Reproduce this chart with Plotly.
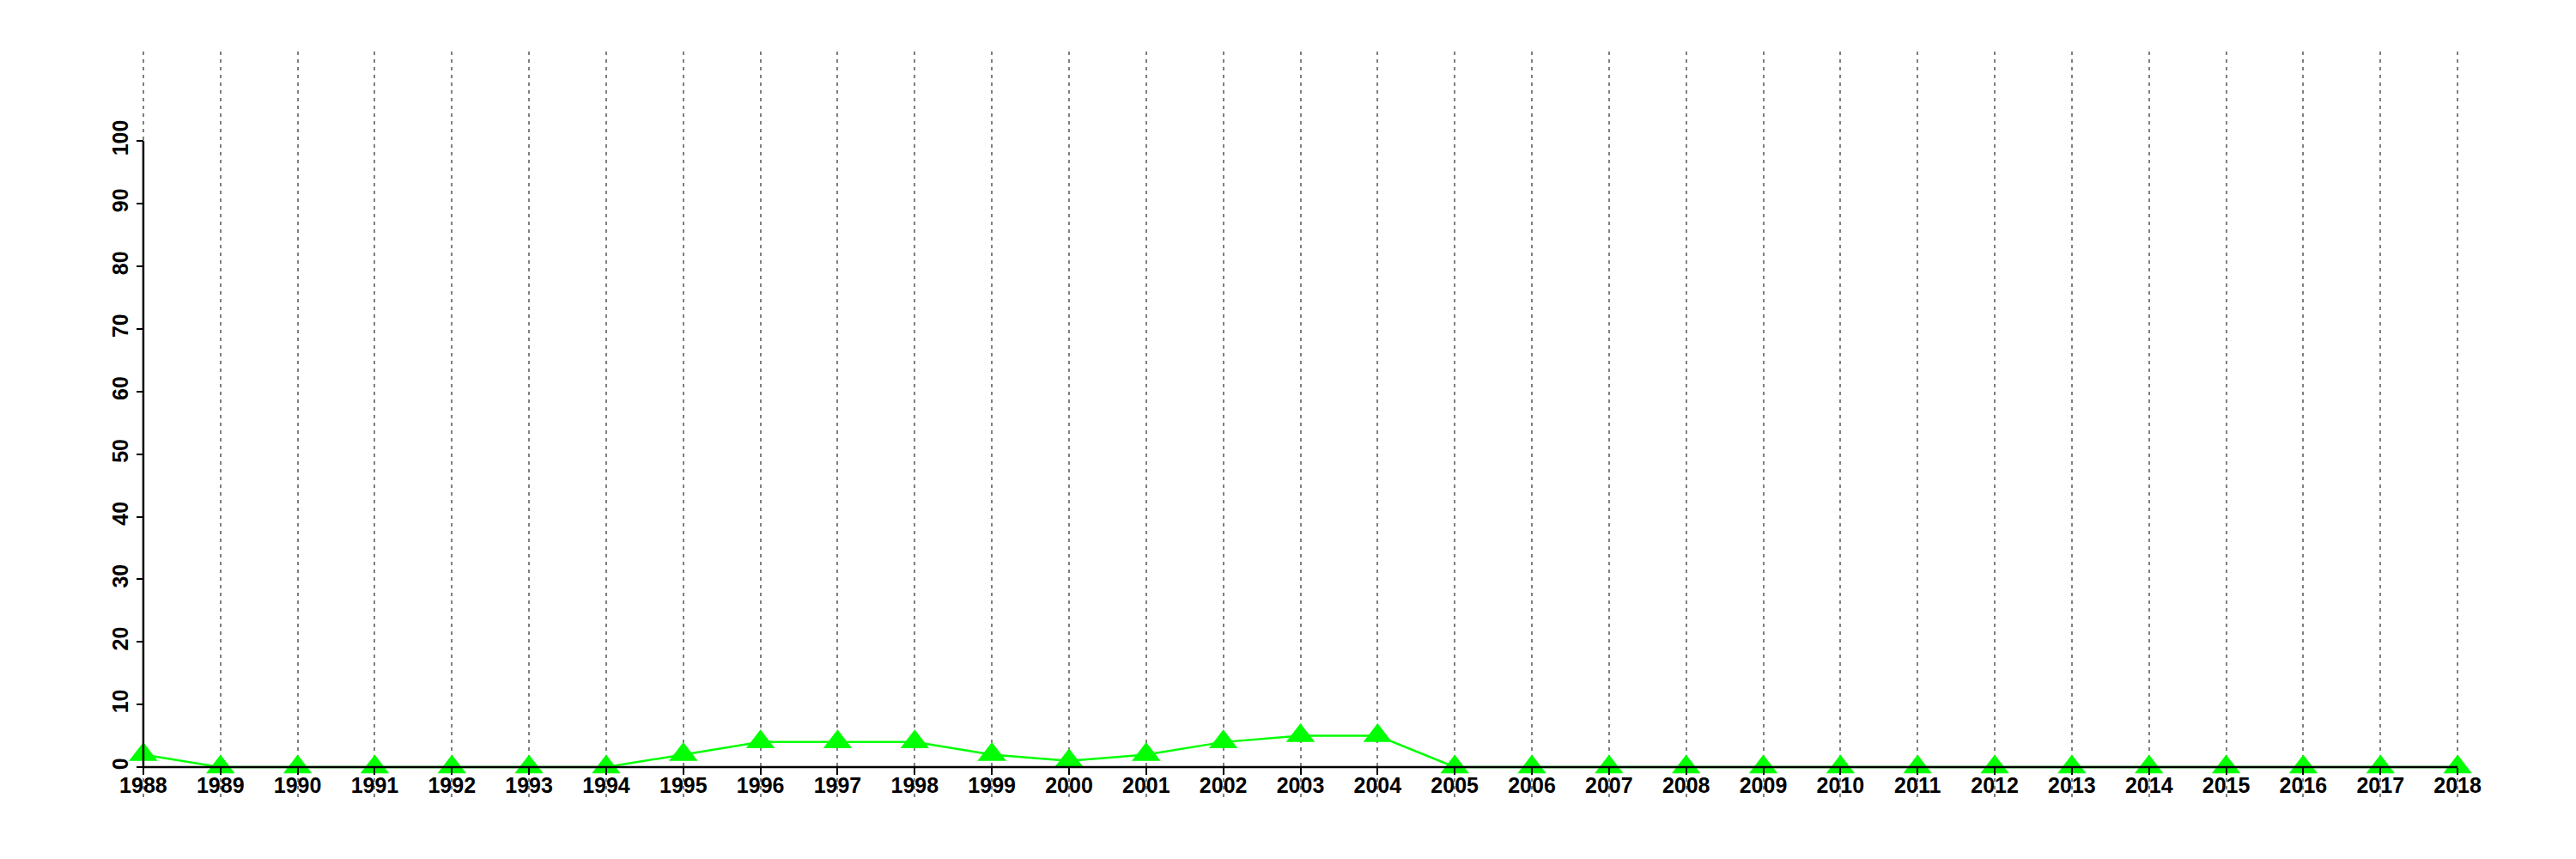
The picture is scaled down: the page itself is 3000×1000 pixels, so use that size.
import plotly.graph_objects as go

years = list(range(1988, 2019))
values = [2, 0, 0, 0, 0, 0, 0, 2, 4, 4, 4, 2, 1, 2, 4, 5, 5,
          0, 0, 0, 0, 0, 0, 0, 0, 0, 0, 0, 0, 0, 0]
y_ticks = [0, 10, 20, 30, 40, 50, 60, 70, 80, 90, 100]
x_labels = [str(y) for y in years]

W, H = 3000, 1000
L, R, T, B = 114, 101, 52, 80
x_range = [1987.5, 2018.5]
y_range = [-4.8, 114.3]

x_pos = (years[0] - x_range[0]) / (x_range[1] - x_range[0])
y_pos = (0 - y_range[0]) / (y_range[1] - y_range[0])

tick_font = dict(family="Liberation Sans, Arial, sans-serif", size=25,
                 color="black", weight="bold")

fig = go.Figure()
fig.add_trace(go.Scatter(
    x=years, y=values, mode="lines+markers",
    line=dict(color="#00FF00", width=2.5),
    marker=dict(symbol="triangle-up", size=29, color="#00FF00"),
    cliponaxis=False, showlegend=False,
))

# axis lines (span only the data extent, as in the reference)
fig.add_shape(type="line", xref="x", yref="y", x0=years[0], x1=years[-1],
              y0=0, y1=0, line=dict(color="black", width=2.5), layer="above")
fig.add_shape(type="line", xref="x", yref="y", x0=years[0], x1=years[0],
              y0=y_ticks[0], y1=y_ticks[-1], line=dict(color="black", width=2.5),
              layer="above")

fig.update_layout(
    width=W, height=H,
    margin=dict(l=L, r=R, t=T, b=B),
    paper_bgcolor="white", plot_bgcolor="white",
    xaxis=dict(
        range=x_range, tickvals=years, ticktext=x_labels,
        anchor="free", position=y_pos,
        showline=False, zeroline=False,
        showgrid=True, gridcolor="#7f7f7f", gridwidth=2, griddash="4px,5px",
        ticks="outside", ticklen=8, tickwidth=2, tickcolor="black",
        tickfont=tick_font, tickangle=0, ticklabelstandoff=-9,
    ),
    yaxis=dict(
        range=y_range, tickvals=y_ticks, ticktext=[str(v) for v in y_ticks],
        anchor="free", position=x_pos,
        showline=False, zeroline=False, showgrid=False,
        ticks="outside", ticklen=8, tickwidth=2, tickcolor="black",
        tickfont=tick_font, tickangle=-90,
    ),
)

fig.write_html("out.html")
